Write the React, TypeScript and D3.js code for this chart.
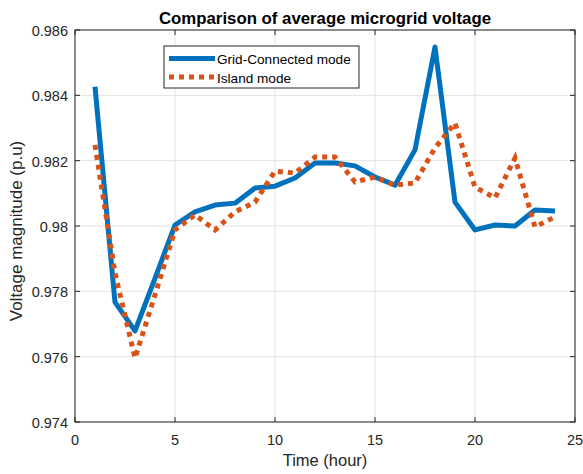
import React from "react";
import * as d3 from "d3";

const hours = [1,2,3,4,5,6,7,8,9,10,11,12,13,14,15,16,17,18,19,20,21,22,23,24];
const gridConnected = [0.98426,0.97767,0.97679,0.9784,0.98003,0.98043,0.98064,0.9807,0.98116,0.98122,0.98147,0.98193,0.98193,0.98184,0.9815,0.98125,0.98233,0.98548,0.98073,0.97988,0.98003,0.98,0.98049,0.98046];
const islandMode = [0.98248,0.97856,0.97596,0.97789,0.97988,0.98034,0.97988,0.98043,0.98073,0.98168,0.98162,0.98211,0.98211,0.98135,0.9815,0.98125,0.98132,0.98239,0.98315,0.98119,0.98086,0.98208,0.97997,0.98028];
const xTicks = [0,5,10,15,20,25];
const yTicks = [0.974,0.976,0.978,0.98,0.982,0.984,0.986];
const seriesNames = ["Grid-Connected mode","Island mode"];
const colors = ["#0072BD","#D95319"];

export default function App() {
  const W = 583, H = 474;
  const L = 75, R = 575, T = 30, B = 422;
  const x = d3.scaleLinear().domain([0,25]).range([L,R]);
  const y = d3.scaleLinear().domain([0.974,0.986]).range([B,T]);
  const line = d3.line<number>().x((_, i) => x(hours[i])).y(d => y(d));
  const font = "'Liberation Sans', Arial, sans-serif";
  const fmtY = (v: number) => (v === 0.98 ? "0.98" : v.toFixed(3));
  const dash = "5,5";
  return (
    <svg width={W} height={H} style={{position:"absolute",left:0,top:0,background:"#fff"}} fontFamily={font}>
      <rect x={0} y={0} width={W} height={H} fill="#fff"/>
      {xTicks.map(t => (
        <line key={"gx"+t} x1={x(t)} x2={x(t)} y1={T} y2={B} stroke="#e3e3e3" strokeWidth={1}/>
      ))}
      {yTicks.map(t => (
        <line key={"gy"+t} x1={L} x2={R} y1={y(t)} y2={y(t)} stroke="#e3e3e3" strokeWidth={1}/>
      ))}
      <rect x={L} y={T} width={R-L} height={B-T} fill="none" stroke="#262626" strokeWidth={1}/>
      {xTicks.map(t => (
        <g key={"tx"+t}>
          <line x1={x(t)} x2={x(t)} y1={B} y2={B-5} stroke="#262626"/>
          <line x1={x(t)} x2={x(t)} y1={T} y2={T+5} stroke="#262626"/>
          <text x={x(t)} y={B+23} fontSize={14.5} textAnchor="middle" fill="#262626">{t}</text>
        </g>
      ))}
      {yTicks.map(t => (
        <g key={"ty"+t}>
          <line x1={L} x2={L+5} y1={y(t)} y2={y(t)} stroke="#262626"/>
          <line x1={R} x2={R-5} y1={y(t)} y2={y(t)} stroke="#262626"/>
          <text x={L-7} y={y(t)+6} fontSize={14.5} textAnchor="end" fill="#262626">{fmtY(t)}</text>
        </g>
      ))}
      <path d={line(gridConnected) || ""} fill="none" stroke={colors[0]} strokeWidth={5} strokeLinejoin="round"/>
      <path d={line(islandMode) || ""} fill="none" stroke={colors[1]} strokeWidth={5} strokeDasharray={dash}/>
      <text x={(L+R)/2} y={24} fontSize={16.8} fontWeight="bold" textAnchor="middle" fill="#000">Comparison of average microgrid voltage</text>
      <text x={(L+R)/2} y={466} fontSize={16.5} textAnchor="middle" fill="#262626">Time (hour)</text>
      <text transform={`translate(22,${231}) rotate(-90)`} fontSize={17} textAnchor="middle" fill="#262626">Voltage magnitude (p.u)</text>
      <g>
        <rect x={164} y={46} width={195} height={42} fill="#fff" stroke="#262626" strokeWidth={1}/>
        <line x1={169} x2={215} y1={58.5} y2={58.5} stroke={colors[0]} strokeWidth={5}/>
        <line x1={169} x2={215} y1={77} y2={77} stroke={colors[1]} strokeWidth={5} strokeDasharray={dash}/>
        <text x={217} y={64} fontSize={13.6} fill="#000">{seriesNames[0]}</text>
        <text x={217} y={83} fontSize={13.6} fill="#000">{seriesNames[1]}</text>
      </g>
    </svg>
  );
}
